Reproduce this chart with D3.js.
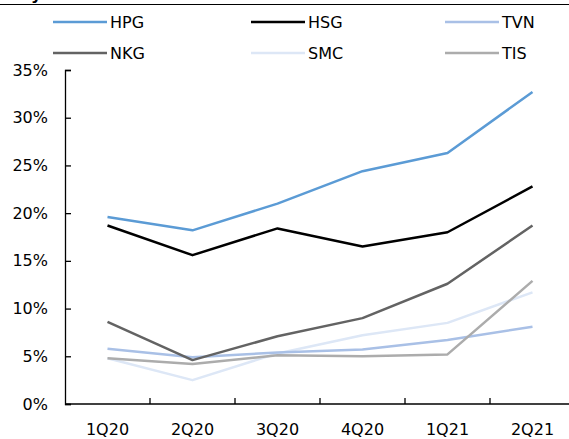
<html>

<head>
    <meta charset="utf-8" />
    <title>Margins</title>
    <script src="https://d3js.org/d3.v7.min.js"></script>
    <style>
        body {
            margin: 0;
            background: #fff;
        }

        svg text {
            font-family: "DejaVu Sans", Verdana, sans-serif;
            font-size: 16px;
            fill: #000;
        }
    </style>
</head>

<body>
    <svg id="chart" width="569" height="439"></svg>
    <script>
        const quarters = ["1Q20", "2Q20", "3Q20", "4Q20", "1Q21", "2Q21"]
        const seriesNames = ["HPG", "HSG", "TVN", "NKG", "SMC", "TIS"]
        const hpg = [19.6, 18.2, 21.0, 24.4, 26.3, 32.7]
        const hsg = [18.7, 15.6, 18.4, 16.5, 18.0, 22.8]
        const tvn = [5.8, 4.9, 5.4, 5.7, 6.7, 8.1]
        const nkg = [8.6, 4.6, 7.1, 9.0, 12.6, 18.7]
        const smc = [4.8, 2.5, 5.3, 7.2, 8.5, 11.7]
        const tis = [4.8, 4.2, 5.1, 5.0, 5.2, 12.9]
        const yTicks = [0, 5, 10, 15, 20, 25, 30, 35]
        const colors = ["#5b9bd5", "#000000", "#a9c0e6", "#636363", "#dde7f6", "#acacac"]

        const series = [hpg, hsg, tvn, nkg, smc, tis].map((v, i) => ({
            name: seriesNames[i], values: v, color: colors[i]
        }))

        const svg = d3.select("svg#chart")

        // header rule; only the descender of the title above it is in frame
        svg.append("text").attr("x", 31).attr("y", 0)
            .style("font-weight", "bold").text("y")
        svg.append("line").attr("x1", 0).attr("x2", 569).attr("y1", 4.5).attr("y2", 4.5)
            .attr("stroke", "#000").attr("stroke-width", 1.2)

        const x = d3.scaleBand().domain(quarters).range([65, 575])
        const y = d3.scaleLinear().domain([0, 35]).range([404, 70])

        const yAxis = d3.axisLeft(y).tickValues(yTicks).tickSize(-6)
            .tickPadding(17).tickFormat(d => d + "%")
        svg.append("g").attr("class", "axis").attr("transform", "translate(65,0)")
            .call(yAxis)

        const xAxis = d3.axisBottom(x).tickSize(0).tickPadding(20)
        const gx = svg.append("g").attr("class", "axis").attr("transform", "translate(0,404)")
            .call(xAxis)
        gx.select(".domain").remove()
        svg.append("line").attr("x1", 65).attr("x2", 575).attr("y1", 404).attr("y2", 404)
            .attr("stroke", "#000").attr("stroke-width", 1.3)

        // category dividers on the x axis
        svg.selectAll("line.xdiv").data(quarters.slice(1))
            .join("line").attr("class", "xdiv")
            .attr("x1", d => x(d)).attr("x2", d => x(d))
            .attr("y1", 404).attr("y2", 398)
            .attr("stroke", "#000").attr("stroke-width", 1.3)

        svg.selectAll(".axis .domain").attr("stroke-width", 1.3)
        svg.selectAll(".axis .tick line").attr("stroke-width", 1.3)

        const line = d3.line()
            .x((d, i) => x(quarters[i]) + x.bandwidth() / 2)
            .y(d => y(d))

        // draw lighter series first so dark ones sit on top
        const drawOrder = [4, 2, 5, 3, 1, 0]
        svg.selectAll("path.series").data(drawOrder.map(i => series[i]))
            .join("path").attr("class", "series")
            .attr("d", d => line(d.values))
            .attr("fill", "none")
            .attr("stroke", d => d.color)
            .attr("stroke-width", 2.5)
            .attr("stroke-linejoin", "round")

        const legendX = [53, 251, 445]
        const legendY = [22, 53]
        const legend = svg.selectAll("g.legend").data(series)
            .join("g").attr("class", "legend")
            .attr("transform", (d, i) => `translate(${legendX[i % 3]},${legendY[Math.floor(i / 3)]})`)
        legend.append("line").attr("x1", 0).attr("x2", 54).attr("y1", 0).attr("y2", 0)
            .attr("stroke", d => d.color).attr("stroke-width", 2.5)
        legend.append("text")
            .attr("x", 57).attr("y", 0).attr("dy", "0.36em")
            .text(d => d.name)
    </script>
</body>

</html>
